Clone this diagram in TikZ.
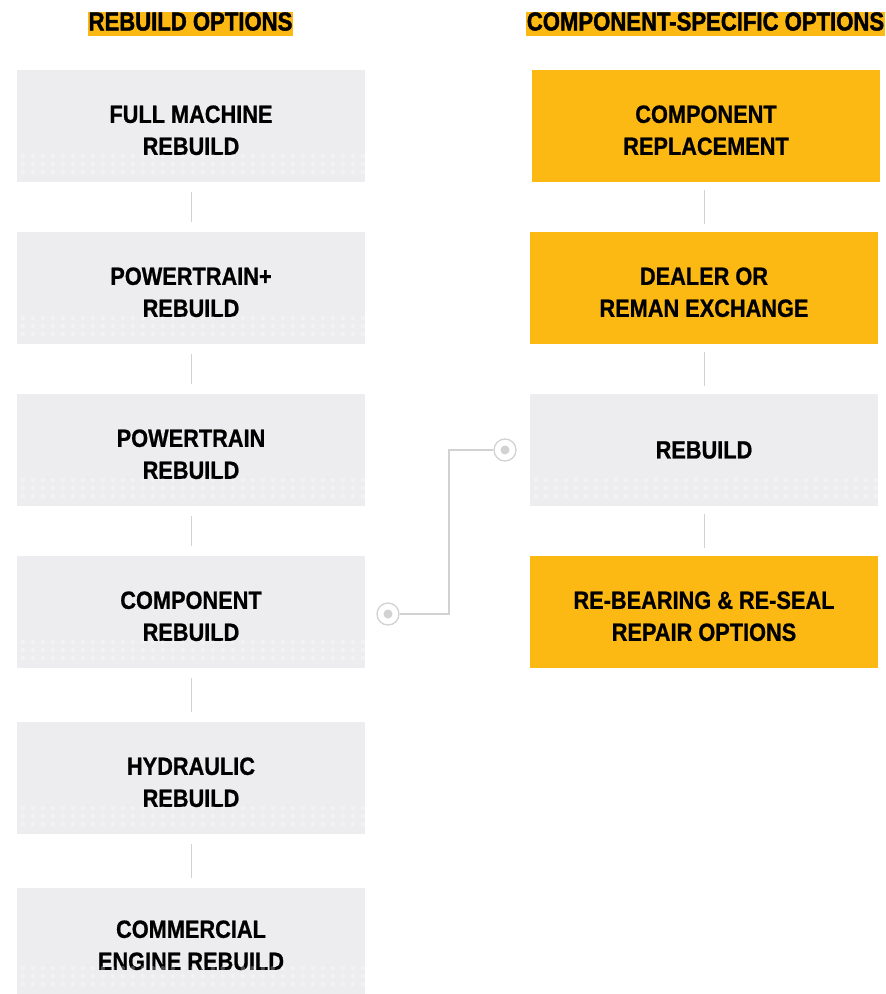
\documentclass[tikz,border=0pt]{standalone}
\usepackage{fontspec}
\setmainfont{Liberation Sans}
\newfontfamily\boxfont[FakeStretch=0.87,FakeBold=0.8]{Liberation Sans Bold}
\newfontfamily\headfont[FakeStretch=0.85,FakeBold=1.5]{Liberation Sans Bold}
\usetikzlibrary{calc}
\definecolor{catyellow}{HTML}{FDB913}
\definecolor{boxgray}{HTML}{EDEDEF}
\definecolor{linegray}{HTML}{D2D2D2}
\newcommand{\tstrut}{\rule{0pt}{26pt}}
\tikzset{
  optbox/.style={minimum width=348pt, minimum height=112pt, inner sep=0pt, align=center,
    font=\boxfont\fontsize{25}{32}\selectfont, text=black},
  graybox/.style={optbox, fill=boxgray},
  yelbox/.style={optbox, fill=catyellow},
  head/.style={fill=catyellow, inner xsep=1pt, inner ysep=0pt, text height=19pt, text depth=5pt,
    font=\headfont\fontsize{26}{28}\selectfont, text=black},
  link/.style={draw=linegray, line width=1.5pt},
  vlink/.style={draw=linegray, line width=1pt},
  ring/.style={circle, draw=linegray, line width=1.3pt, fill=white, minimum size=22pt, inner sep=0pt},
}
\begin{document}
\begin{tikzpicture}[x=1pt,y=-1pt]
\useasboundingbox (0,0) rectangle (886,994);
% headers
\node[head] (h1) at (190.5,23.5) {REBUILD OPTIONS};
\node[head] (h2) at (705.5,23.5) {COMPONENT-SPECIFIC OPTIONS};
% left column
\node[graybox] (l1) at (191,126) {\tstrut FULL MACHINE\\REBUILD};
\node[graybox] (l2) at (191,288) {\tstrut POWERTRAIN+\\REBUILD};
\node[graybox] (l3) at (191,450) {\tstrut POWERTRAIN\\REBUILD};
\node[graybox] (l4) at (191,612) {\tstrut COMPONENT\\REBUILD};
\node[graybox] (l5) at (191,778) {\tstrut HYDRAULIC\\REBUILD};
\node[graybox, minimum height=106pt] (l6) at (191,941) {\tstrut COMMERCIAL\\ENGINE REBUILD};
% right column
\node[yelbox] (r1) at (706,126) {\tstrut COMPONENT\\REPLACEMENT};
\node[yelbox] (r2) at (704,288) {\tstrut DEALER OR\\REMAN EXCHANGE};
\node[graybox] (r3) at (704,450) {REBUILD};
\node[yelbox] (r4) at (704,612) {\tstrut RE-BEARING \& RE-SEAL\\REPAIR OPTIONS};
% texture bands on gray boxes
\foreach \b in {l1,l2,l3,l4,l5,l6,r3} {
  \foreach \yy in {10,18,26} {
    \foreach \xx in {6,16,...,346} {
      \fill[white, opacity=0.28] ($(\b.south west)+(\xx,-\yy)$) circle (2.3);
    }
  }
}
% vertical connectors
\foreach \a/\b in {l1/l2,l2/l3,l3/l4,l4/l5,l5/l6} {
  \draw[vlink] ($(\a.south)+(0,10)$) -- ($(\b.north)+(0,-10)$);
}
\foreach \a/\b in {r1/r2,r2/r3,r3/r4} {
  \draw[vlink] ($(\a.south -| \b.north)+(0,8)$) -- ($(\b.north)+(0,-8)$);
}
% link between component rebuild and rebuild
\node[ring] (c1) at (388,614) {};
\node[ring] (c2) at (505,450) {};
\fill[linegray] (c1.center) circle (4.5);
\fill[linegray] (c2.center) circle (4.5);
\draw[link] (c1.east) -| (449,450) -- (c2.west);
\end{tikzpicture}
\end{document}
